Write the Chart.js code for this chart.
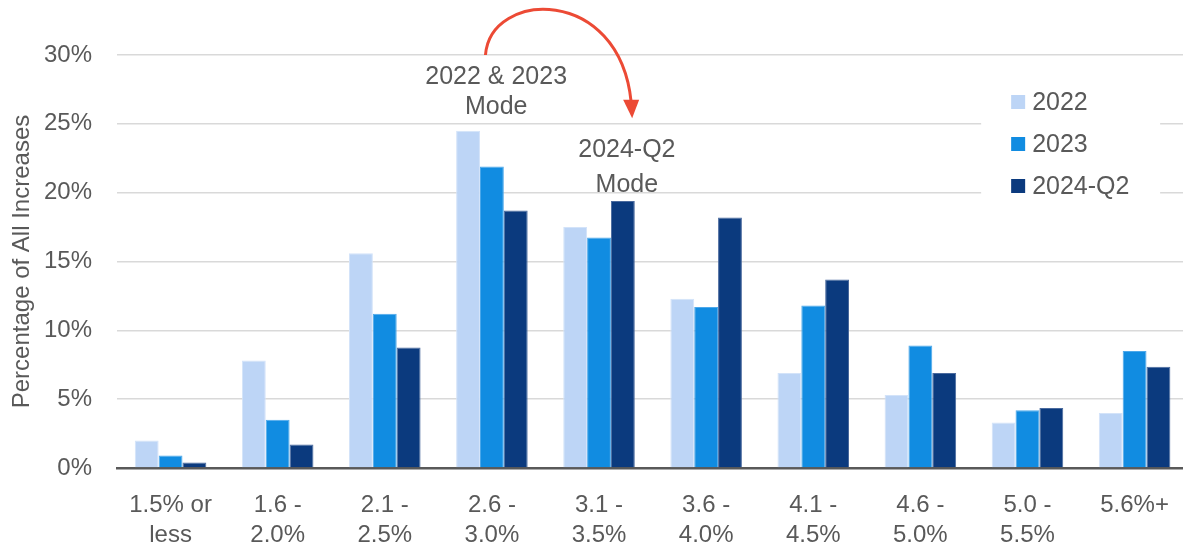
<!DOCTYPE html>
<html>
<head>
<meta charset="utf-8">
<script src="https://cdn.jsdelivr.net/npm/chart.js@4.4.1/dist/chart.umd.min.js"></script>
<style>
  html, body { margin: 0; padding: 0; background: #fff; overflow: hidden; }
  #wrap { width: 1191px; height: 543px; position: relative; }
</style>
</head>
<body>
<div id="wrap"><canvas id="chart"></canvas></div>
<script>
// categories (rate-increase buckets), two-line labels
const categories = [
  ['1.5% or', 'less'], ['1.6 -', '2.0%'], ['2.1 -', '2.5%'], ['2.6 -', '3.0%'], ['3.1 -', '3.5%'],
  ['3.6 -', '4.0%'], ['4.1 -', '4.5%'], ['4.6 -', '5.0%'], ['5.0 -', '5.5%'], ['5.6%+']
];
const seriesNames = ['2022', '2023', '2024-Q2'];
// share of all increases, %
const values2022 = [2.0, 7.8, 15.6, 24.5, 17.5, 12.3, 6.9, 5.3, 3.3, 4.0];
const values2023 = [0.9, 3.5, 11.2, 21.9, 16.75, 11.7, 11.8, 8.9, 4.2, 8.5];
const values2024 = [0.4, 1.7, 8.75, 18.7, 19.4, 18.2, 13.7, 6.9, 4.35, 7.35];
const yTicks = [0, 5, 10, 15, 20, 25, 30];
const yTitle = 'Percentage of All Increases';
// mode annotations: [text lines, category x, y value per line]
const notes = [
  { lines: ['2022 & 2023', 'Mode'], x: 3.04, y: [28.4, 26.2] },
  { lines: ['2024-Q2', 'Mode'], x: 4.26, y: [23.1, 20.55] }
];

const TXT = '#595959';
const FONT = 'Liberation Sans, Arial, sans-serif';
const colors = ['#BDD5F6', '#118CE1', '#0B3A7E'];
const edges = ['#D3E3F9', '#4DA8EA', '#4A6A9E'];

// legend drawn inside plot area, with white backing
const insideLegend = {
  id: 'insideLegend',
  afterDatasetsDraw(chart) {
    const ctx = chart.ctx, a = chart.chartArea;
    ctx.save();
    ctx.fillStyle = '#fff';
    ctx.fillRect(a.right - 207, 80, 179, 126);
    ctx.font = '25px ' + FONT;
    ctx.textBaseline = 'middle';
    ctx.textAlign = 'left';
    chart.data.datasets.forEach((ds, i) => {
      const y = 102 + i * 42;
      ctx.fillStyle = ds.backgroundColor;
      ctx.fillRect(a.right - 177, y - 7, 14, 14);
      ctx.fillStyle = TXT;
      ctx.fillText(ds.label, a.right - 156, y + 1);
    });
    ctx.restore();
  }
};

// mode notes and the red arrow from old mode to new one
const modeNotes = {
  id: 'modeNotes',
  afterDatasetsDraw(chart) {
    const ctx = chart.ctx, xs = chart.scales.x, ys = chart.scales.y;
    ctx.save();
    ctx.font = '25px ' + FONT;
    ctx.fillStyle = TXT;
    ctx.textAlign = 'center';
    ctx.textBaseline = 'middle';
    notes.forEach(n => {
      n.lines.forEach((t, i) => {
        ctx.fillText(t, xs.getPixelForValue(n.x), ys.getPixelForValue(n.y[i]));
      });
    });
    // arrow
    const px = v => xs.getPixelForValue(v), py = v => ys.getPixelForValue(v);
    const x0 = px(2.94), y0 = py(30), x1 = px(4.3), y1 = py(26.6);
    ctx.strokeStyle = '#EC4A35';
    ctx.fillStyle = '#EC4A35';
    ctx.lineWidth = 3;
    ctx.beginPath();
    ctx.moveTo(x0, y0);
    ctx.bezierCurveTo(x0 + 5, y0 - 65, x1 - 12, y0 - 70, x1, y1);
    ctx.stroke();
    ctx.beginPath();
    ctx.moveTo(x1 - 8, y1 - 2);
    ctx.lineTo(x1 + 8, y1 - 2);
    ctx.lineTo(x1 + 1, py(25.4));
    ctx.closePath();
    ctx.fill();
    ctx.restore();
  }
};

const mk = (i, data) => ({
  label: seriesNames[i],
  data: data,
  backgroundColor: colors[i],
  borderColor: edges[i],
  borderWidth: 1,
  barPercentage: 1.0,
  categoryPercentage: 0.668
});

new Chart(document.getElementById('chart'), {
  type: 'bar',
  data: {
    labels: categories,
    datasets: [mk(0, values2022), mk(1, values2023), mk(2, values2024)]
  },
  options: {
    responsive: true,
    maintainAspectRatio: false,
    animation: false,
    layout: { padding: { top: 55, right: 1, left: 0, bottom: 0 } },
    plugins: {
      legend: { display: false },
      tooltip: { enabled: false }
    },
    scales: {
      x: {
        grid: { display: false, drawTicks: false },
        border: { display: true, color: '#595959', width: 2.5 },
        ticks: {
          color: TXT,
          font: { family: FONT, size: 24, lineHeight: 1.25 },
          padding: 22,
          maxRotation: 0,
          autoSkip: false
        },
        afterFit(s) { s.height = 75; }
      },
      y: {
        min: 0,
        max: 30,
        afterBuildTicks(s) { s.ticks = yTicks.map(v => ({ value: v })); },
        grid: { color: '#D9D9D9', lineWidth: 1.5, drawTicks: false },
        border: { display: false },
        ticks: {
          color: TXT,
          font: { family: FONT, size: 24 },
          padding: 25,
          callback: v => v + '%'
        },
        title: {
          display: true,
          text: yTitle,
          color: TXT,
          font: { family: FONT, size: 24 },
          padding: { top: 8, bottom: 0 }
        },
        afterFit(s) { s.width = 117; }
      }
    }
  },
  plugins: [modeNotes, insideLegend]
});
</script>
</body>
</html>
